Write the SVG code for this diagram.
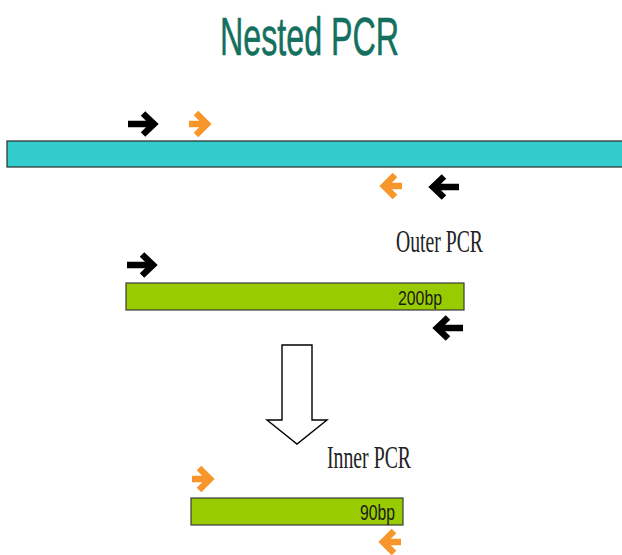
<svg xmlns="http://www.w3.org/2000/svg" xmlns:xlink="http://www.w3.org/1999/xlink" width="622" height="555" viewBox="0 0 622 555">
  <style>
    .title { font-family: "Liberation Sans", Arial, sans-serif; fill: #13705e; stroke: #13705e; stroke-width: 0.6; }
    .step { font-family: "Liberation Serif", "Times New Roman", serif; fill: #222; }
    .size { font-family: "Liberation Sans", Arial, sans-serif; fill: #1a1a1a; }
    .template { fill: #33cccc; stroke: #2a2a2a; stroke-width: 1.2; }
    .product { fill: #99cc00; stroke: #3a3a3a; stroke-width: 1.2; }
    .outer { fill: none; stroke: #000; stroke-width: 6.5; stroke-linecap: butt; stroke-linejoin: miter; }
    .inner { fill: none; stroke: #f7962a; stroke-width: 6.5; stroke-linecap: butt; stroke-linejoin: miter; }
  </style>
  <defs>
    <!-- primer arrows, drawn with the tip at the origin pointing right -->
    <path id="outerPrimer" class="outer" d="M -27 0 H -3 M -12 -10.5 L -1 0 L -12 10.5"/>
    <path id="innerPrimer" class="inner" d="M -19 0 H -4 M -12 -11 L -1 0 L -12 11"/>
  </defs>

  <rect width="622" height="555" fill="#ffffff"/>

  <g id="title">
    <text class="title" x="220" y="55" font-size="54" textLength="179" lengthAdjust="spacingAndGlyphs">Nested PCR</text>
  </g>

  <!-- template DNA with both primer pairs -->
  <g id="template">
    <rect class="template" x="7" y="141" width="620" height="26"/>
  </g>
  <g id="primers-template">
    <use xlink:href="#outerPrimer" transform="translate(155,124)"/>
    <use xlink:href="#innerPrimer" transform="translate(208,124)"/>
    <use xlink:href="#innerPrimer" transform="translate(383,186) scale(-1,1)"/>
    <use xlink:href="#outerPrimer" transform="translate(432,187) scale(-1,1)"/>
  </g>

  <!-- outer PCR product -->
  <g id="outer-pcr">
    <text class="step" x="396" y="252" font-size="31" textLength="87" lengthAdjust="spacingAndGlyphs">Outer PCR</text>
    <rect class="product" x="126" y="283" width="338" height="27"/>
    <text class="size" x="398" y="305" font-size="21" textLength="44" lengthAdjust="spacingAndGlyphs">200bp</text>
    <use xlink:href="#outerPrimer" transform="translate(154,265)"/>
    <use xlink:href="#outerPrimer" transform="translate(436,328) scale(-1,1)"/>
  </g>

  <!-- step arrow -->
  <g id="connectors">
    <polygon points="282,345 312,345 312,420 327,420 297,444 267,420 282,420" fill="#ffffff" stroke="#000" stroke-width="1.4" stroke-linejoin="miter"/>
  </g>

  <!-- inner PCR product -->
  <g id="inner-pcr">
    <text class="step" x="327" y="468" font-size="31" textLength="84" lengthAdjust="spacingAndGlyphs">Inner PCR</text>
    <use xlink:href="#innerPrimer" transform="translate(211,479)"/>
    <rect class="product" x="191" y="498" width="212" height="27"/>
    <text class="size" x="360" y="520" font-size="22" textLength="35" lengthAdjust="spacingAndGlyphs">90bp</text>
    <use xlink:href="#innerPrimer" transform="translate(382,542) scale(-1,1)"/>
  </g>
</svg>
